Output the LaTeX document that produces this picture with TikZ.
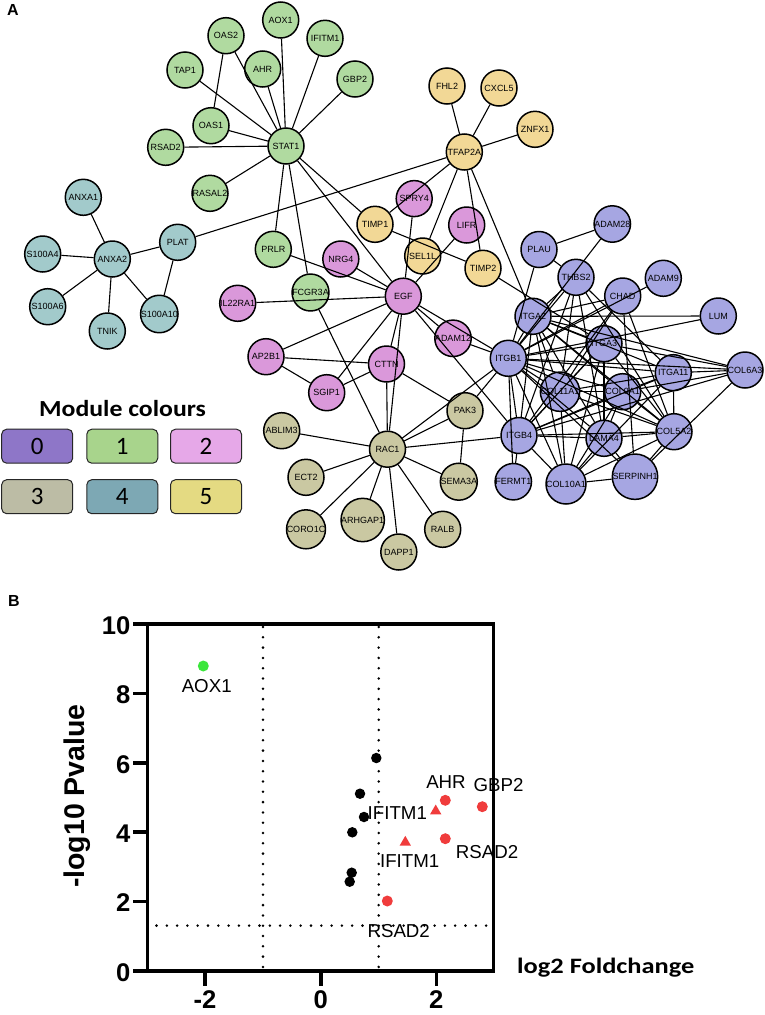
\documentclass[tikz,border=0pt]{standalone}
\usepackage{fontspec}
\usetikzlibrary{shapes.geometric}
\setmainfont{Liberation Sans}
\newfontfamily\carl{Carlito}
\definecolor{ngreen}{HTML}{B0DAA0}
\definecolor{nteal}{HTML}{A2CACB}
\definecolor{npink}{HTML}{DA98DA}
\definecolor{nkhaki}{HTML}{CAC8A2}
\definecolor{nyellow}{HTML}{F2D896}
\definecolor{npurple}{HTML}{A6A6E2}
\definecolor{lzero}{HTML}{8E76C8}
\definecolor{lone}{HTML}{A8D48C}
\definecolor{ltwo}{HTML}{E6A8E8}
\definecolor{lthree}{HTML}{BCBCA5}
\definecolor{lfour}{HTML}{7DA8B4}
\definecolor{lfive}{HTML}{E4DA82}
\definecolor{ptgreen}{HTML}{3CE63C}
\definecolor{ptred}{HTML}{F03C3C}
\begin{document}
\begin{tikzpicture}[x=1pt,y=-1pt,
  gn/.style={circle,draw=black,line width=1.5pt,minimum size=36pt,inner sep=0pt,font=\fontsize{9}{9}\selectfont},
  edge/.style={draw=black,line width=1.1pt},
  legbox/.style={draw=black!85,line width=1pt,rounded corners=5pt,minimum width=71pt,minimum height=34pt,inner sep=0pt,font=\carl\fontsize{25}{25}\selectfont},
  axisline/.style={line width=3.6pt,line cap=rect},
  dotline/.style={line width=2.8pt,line cap=round,dash pattern=on 0pt off 10.3pt},
  ticklab/.style={font=\bfseries\fontsize{25.6}{26}\selectfont,inner sep=0pt},
  ptlab/.style={font=\fontsize{18.7}{19}\selectfont,inner sep=0pt},
  blk/.style={circle,fill=black,inner sep=0pt,minimum size=10.5pt},
  rdc/.style={circle,fill=ptred,inner sep=0pt,minimum size=11pt},
  rdt/.style={regular polygon,regular polygon sides=3,fill=ptred,inner sep=0pt,minimum size=13pt}
]
\useasboundingbox (0,0) rectangle (765,1015);
% panel letters
\node[font=\bfseries\fontsize{16}{16}\selectfont,inner sep=0pt] (lA) at (13,10) {A};
\node[font=\bfseries\fontsize{16}{16}\selectfont,inner sep=0pt] (lB) at (14,601) {B};

% ---------------- network nodes ----------------
% module 1 (green)
\node[gn,fill=ngreen] (AOX1) at (280.7,20) {AOX1};
\node[gn,fill=ngreen] (OAS2) at (226,35.7) {OAS2};
\node[gn,fill=ngreen] (IFITM1) at (325,38.3) {IFITM1};
\node[gn,fill=ngreen] (TAP1) at (185,70) {TAP1};
\node[gn,fill=ngreen] (AHR) at (262.7,69) {AHR};
\node[gn,fill=ngreen] (GBP2) at (355,79) {GBP2};
\node[gn,fill=ngreen] (OAS1) at (211,125.7) {OAS1};
\node[gn,fill=ngreen] (RSAD2) at (165.7,147.3) {RSAD2};
\node[gn,fill=ngreen] (STAT1) at (286,146) {STAT1};
\node[gn,fill=ngreen] (RASAL2) at (210,193.3) {RASAL2};
\node[gn,fill=ngreen] (PRLR) at (273.3,249.3) {PRLR};
\node[gn,fill=ngreen] (FCGR3A) at (310.5,292.5) {FCGR3A};
% module 4 (teal)
\node[gn,fill=nteal] (ANXA1) at (83.3,197.3) {ANXA1};
\node[gn,fill=nteal] (S100A4) at (42.7,254) {S100A4};
\node[gn,fill=nteal] (ANXA2) at (112.3,259) {ANXA2};
\node[gn,fill=nteal] (PLAT) at (177.7,242.3) {PLAT};
\node[gn,fill=nteal] (S100A6) at (47.7,306.7) {S100A6};
\node[gn,fill=nteal] (TNIK) at (107.3,331) {TNIK};
\node[gn,fill=nteal] (S100A10) at (159.3,314) {S100A10};
% module 5 (yellow)
\node[gn,fill=nyellow] (FHL2) at (447,86) {FHL2};
\node[gn,fill=nyellow] (CXCL5) at (499,88) {CXCL5};
\node[gn,fill=nyellow] (ZNFX1) at (535,129.3) {ZNFX1};
\node[gn,fill=nyellow] (TFAP2A) at (464.3,152) {TFAP2A};
\node[gn,fill=nyellow] (TIMP1) at (375,224.3) {TIMP1};
\node[gn,fill=nyellow] (SEL1L) at (422.7,256) {SEL1L};
\node[gn,fill=nyellow] (TIMP2) at (483,268.3) {TIMP2};
% module 2 (pink)
\node[gn,fill=npink] (SPRY4) at (414.2,198.6) {SPRY4};
\node[gn,fill=npink] (LIFR) at (466.7,225) {LIFR};
\node[gn,fill=npink] (NRG4) at (340.8,259) {NRG4};
\node[gn,fill=npink] (IL22RA1) at (237.7,303.3) {IL22RA1};
\node[gn,fill=npink] (EGF) at (403.3,296.2) {EGF};
\node[gn,fill=npink] (ADAM12) at (453,338.3) {ADAM12};
\node[gn,fill=npink] (AP2B1) at (266,356.7) {AP2B1};
\node[gn,fill=npink] (CTTN) at (386.5,364) {CTTN};
\node[gn,fill=npink] (SGIP1) at (326.7,392.7) {SGIP1};
% module 3 (khaki)
\node[gn,fill=nkhaki] (ABLIM3) at (281.7,430.7) {ABLIM3};
\node[gn,fill=nkhaki] (RAC1) at (387.5,449.2) {RAC1};
\node[gn,fill=nkhaki] (PAK3) at (465,410.7) {PAK3};
\node[gn,fill=nkhaki] (ECT2) at (306,477.3) {ECT2};
\node[gn,fill=nkhaki] (SEMA3A) at (458.8,481.7) {SEMA3A};
\node[gn,fill=nkhaki] (CORO1C) at (306,529.3) {CORO1C};
\node[gn,fill=nkhaki] (ARHGAP1) at (362.7,520) {ARHGAP1};
\node[gn,fill=nkhaki] (DAPP1) at (398.8,552) {DAPP1};
\node[gn,fill=nkhaki] (RALB) at (442.7,529.3) {RALB};
% module 0 (purple)
\node[gn,fill=npurple] (ADAM28) at (612.3,224) {ADAM28};
\node[gn,fill=npurple] (PLAU) at (539,249.5) {PLAU};
\node[gn,fill=npurple] (THBS2) at (576,277.3) {THBS2};
\node[gn,fill=npurple] (ADAM9) at (663.3,278.3) {ADAM9};
\node[gn,fill=npurple] (CHAD) at (622.7,296) {CHAD};
\node[gn,fill=npurple] (ITGA2) at (533,316.3) {ITGA2};
\node[gn,fill=npurple] (LUM) at (718.3,316) {LUM};
\node[gn,fill=npurple] (ITGA3) at (604,343.7) {ITGA3};
\node[gn,fill=npurple] (ITGB1) at (508.3,358.3) {ITGB1};
\node[gn,fill=npurple] (ITGA11) at (673.3,372.7) {ITGA11};
\node[gn,fill=npurple] (COL6A3) at (745,370) {COL6A3};
\node[gn,fill=npurple] (COL11A1) at (560,391.7) {COL11A1};
\node[gn,fill=npurple] (COL9A1) at (622.7,391.7) {COL9A1};
\node[gn,fill=npurple] (ITGB4) at (519,435.5) {ITGB4};
\node[gn,fill=npurple] (LAMA4) at (604,438.3) {LAMA4};
\node[gn,fill=npurple] (COL5A2) at (674,431.7) {COL5A2};
\node[gn,fill=npurple] (FERMT1) at (513.3,481.7) {FERMT1};
\node[gn,fill=npurple] (COL10A1) at (566,484) {COL10A1};
\node[gn,fill=npurple] (SERPINH1) at (635,476.7) {SERPINH1};

% ---------------- network edges ----------------
\foreach \a/\b in {STAT1/TAP1,STAT1/OAS2,STAT1/AHR,STAT1/AOX1,STAT1/IFITM1,STAT1/GBP2,STAT1/OAS1,STAT1/RSAD2,STAT1/RASAL2,STAT1/PRLR,STAT1/FCGR3A,STAT1/TIMP1,STAT1/EGF,OAS1/OAS2,
 ANXA2/ANXA1,ANXA2/S100A4,ANXA2/S100A6,ANXA2/TNIK,ANXA2/S100A10,ANXA2/PLAT,PLAT/S100A10,PLAT/TFAP2A,
 TFAP2A/FHL2,TFAP2A/CXCL5,TFAP2A/ZNFX1,TFAP2A/TIMP1,TFAP2A/SEL1L,TFAP2A/TIMP2,TFAP2A/ITGA2,TIMP1/TIMP2,LIFR/EGF,SPRY4/EGF,TIMP2/ITGA3,
 EGF/IL22RA1,EGF/NRG4,EGF/PRLR,EGF/AP2B1,EGF/SGIP1,EGF/CTTN,EGF/RAC1,EGF/ADAM12,EGF/ITGB1,EGF/ITGB4,ADAM12/ITGB1,
 AP2B1/CTTN,AP2B1/SGIP1,SGIP1/CTTN,CTTN/RAC1,CTTN/PAK3,
 RAC1/ABLIM3,RAC1/ECT2,RAC1/CORO1C,RAC1/ARHGAP1,RAC1/DAPP1,RAC1/RALB,RAC1/SEMA3A,RAC1/PAK3,RAC1/ITGB4,RAC1/ITGB1,RAC1/FCGR3A,PAK3/SEMA3A,PAK3/ITGB1,
 PLAU/ADAM28,PLAU/ITGB1,PLAU/THBS2,ADAM28/ITGB1,ADAM9/ITGB1,LUM/ITGA2,LUM/ITGB1,
 THBS2/ITGA2,THBS2/ITGB1,THBS2/ITGB4,THBS2/COL11A1,THBS2/LAMA4,THBS2/COL5A2,THBS2/ITGA11,
 CHAD/ITGA2,CHAD/ITGB1,CHAD/ITGB4,CHAD/COL11A1,CHAD/SERPINH1,CHAD/COL5A2,
 ITGA2/ITGB1,ITGA2/ITGB4,ITGA2/ITGA11,ITGA2/COL6A3,ITGA2/COL9A1,ITGA2/COL5A2,ITGA2/LAMA4,ITGA2/COL10A1,ITGA2/COL11A1,ITGA2/ITGA3,
 ITGA3/ITGB1,ITGA3/ITGB4,ITGA3/COL6A3,ITGA3/LAMA4,ITGA3/COL10A1,ITGA3/COL5A2,ITGA3/COL11A1,
 ITGB1/ITGA11,ITGB1/COL6A3,ITGB1/COL11A1,ITGB1/COL9A1,ITGB1/ITGB4,ITGB1/LAMA4,ITGB1/COL5A2,ITGB1/FERMT1,ITGB1/COL10A1,ITGB1/SERPINH1,
 ITGA11/COL6A3,ITGA11/COL5A2,ITGA11/COL11A1,ITGA11/COL9A1,ITGA11/ITGB4,ITGA11/COL10A1,
 COL6A3/COL9A1,COL6A3/ITGB4,COL6A3/SERPINH1,
 COL11A1/ITGB4,COL11A1/COL9A1,COL11A1/COL5A2,COL11A1/COL10A1,
 COL9A1/ITGB4,COL9A1/COL10A1,COL9A1/COL5A2,COL9A1/LAMA4,
 ITGB4/LAMA4,ITGB4/COL5A2,ITGB4/FERMT1,ITGB4/COL10A1,
 LAMA4/COL10A1,LAMA4/COL5A2,LAMA4/SERPINH1,
 COL5A2/SERPINH1,COL10A1/SERPINH1,COL5A2/COL10A1}
 \draw[edge] (\a) -- (\b);

% ---------------- legend ----------------
\node[font=\carl\bfseries\fontsize{23}{23}\selectfont,inner sep=0pt] (legt) at (122.5,408.3) {\scalebox{1.12}[1]{Module colours}};
\node[legbox,fill=lzero] (m0) at (37.2,446.2) {0};
\node[legbox,fill=lone] (m1) at (122.3,446.2) {1};
\node[legbox,fill=ltwo] (m2) at (206,446.2) {2};
\node[legbox,fill=lthree] (m3) at (37.2,496.7) {3};
\node[legbox,fill=lfour] (m4) at (122.3,496.7) {4};
\node[legbox,fill=lfive] (m5) at (206,496.7) {5};

% ---------------- volcano plot ----------------
\coordinate (oBL) at (147.3,970.7);
\coordinate (oTL) at (147.3,624);
\coordinate (oTR) at (493.3,624);
\coordinate (oBR) at (493.3,970.7);
% dotted thresholds
\coordinate (v1t) at (263,627);
\coordinate (v1b) at (263,968);
\coordinate (v2t) at (378.7,627);
\coordinate (v2b) at (378.7,968);
\coordinate (h1l) at (156.5,925.6);
\coordinate (h1r) at (491,925.6);
\draw[dotline] (v1t) -- (v1b);
\draw[dotline] (v2t) -- (v2b);
\draw[dotline] (h1l) -- (h1r);
% frame
\draw[axisline] (oBL) -- (oTL) -- (oTR) -- (oBR) -- cycle;
% y ticks
\foreach \v/\yy in {0/970.7,2/901.4,4/832,6/762.7,8/693.3,10/624}{
  \draw[line width=3.6pt] (133,\yy) -- (147.3,\yy);
  \node[ticklab,anchor=east] at (130.5,\yy+1.5) {\v};
}
% x ticks
\foreach \v/\xx in {-2/205,0/320.7,2/436.3}{
  \draw[line width=3.6pt] (\xx,970.7) -- (\xx,985.5);
  \node[ticklab] at (\xx,1000) {\v};
}
\node[font=\bfseries\fontsize{28.5}{29}\selectfont,rotate=90,inner sep=0pt] (ylab) at (77,796) {-log10 Pvalue};
\node[font=\carl\bfseries\fontsize{22}{22}\selectfont,anchor=base west,inner sep=0pt] (xlab) at (517,973) {\scalebox{1.2}[1]{log2 Foldchange}};
% points
\node[circle,fill=ptgreen,inner sep=0pt,minimum size=11pt] (pAOX1) at (203.3,666) {};
\node[blk] (b1) at (376.3,758) {};
\node[blk] (b2) at (360,793.7) {};
\node[blk] (b3) at (364,817) {};
\node[blk] (b4) at (352.3,832.3) {};
\node[blk] (b5) at (351.7,872.7) {};
\node[blk] (b6) at (349.7,881.7) {};
\node[rdc] (pAHR) at (445.3,800.3) {};
\node[rdc] (pRSAD2a) at (445.3,838.7) {};
\node[rdc] (pRSAD2b) at (387.3,901) {};
\node[rdc] (pGBP2) at (482.3,806.7) {};
\node[rdt] (pIFa) at (435.7,811) {};
\node[rdt] (pIFb) at (405.3,842.3) {};
% point labels
\node[ptlab] (tAOX1) at (206.7,685.7) {AOX1};
\node[ptlab] (tAHR) at (446,781.7) {AHR};
\node[ptlab] (tGBP2) at (498.5,785) {GBP2};
\node[ptlab] (tIFa) at (397.3,813.3) {IFITM1};
\node[ptlab] (tIFb) at (409.7,860.7) {IFITM1};
\node[ptlab] (tRSa) at (487,851.7) {RSAD2};
\node[ptlab] (tRSb) at (398.7,931) {RSAD2};
\end{tikzpicture}
\end{document}
